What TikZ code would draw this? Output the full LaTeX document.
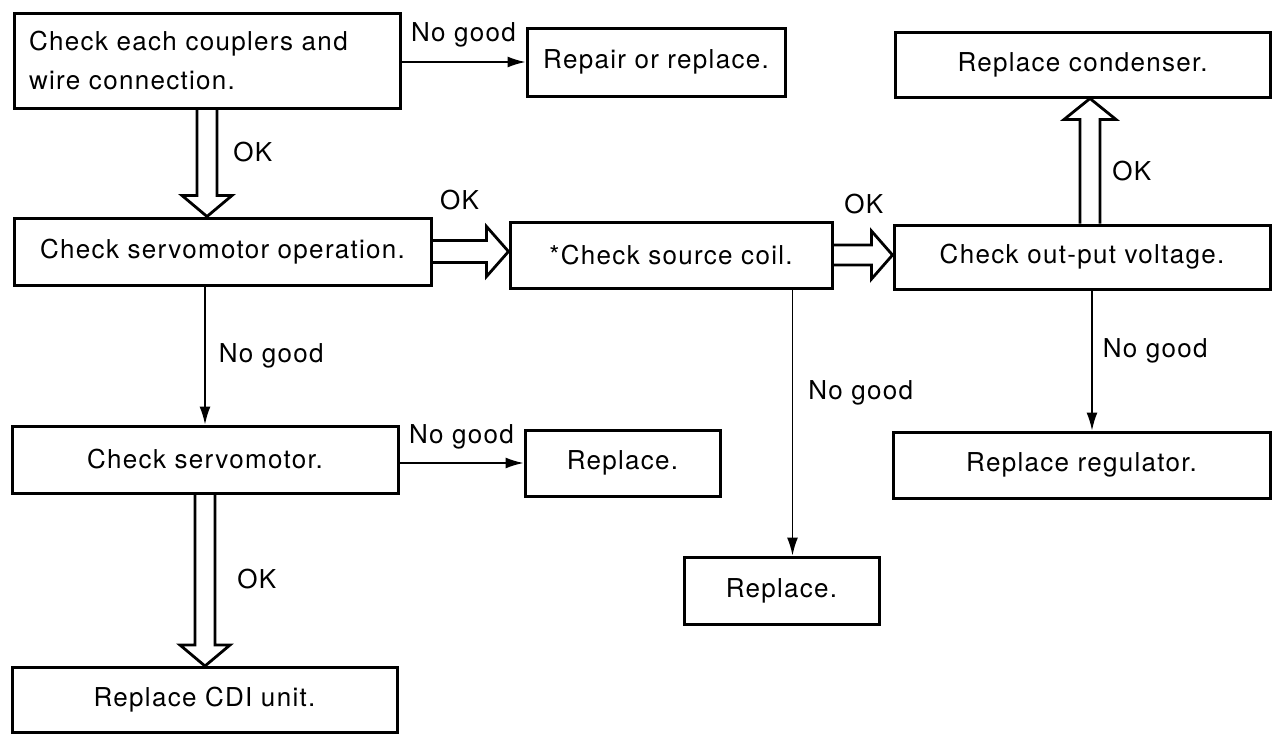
\documentclass[tikz,border=0pt]{standalone}
\usepackage{fontspec}
\setmainfont{TeX Gyre Heros}[LetterSpace=5]
\usetikzlibrary{arrows.meta,calc,positioning}

\begin{document}
\begin{tikzpicture}[
    x=0.5pt,
    y=-0.5pt,
    font=\fontsize{13}{19.5}\selectfont,
    box/.style={
        rectangle,
        draw,
        line width=1.5pt,
        align=center,
        inner sep=0pt
    },
    verdict/.style={
        font=\fontsize{13}{15}\selectfont,
        inner sep=1pt
    },
    arrow/.style={
        -{Latex[length=9pt,width=5.5pt]},
        line width=0.8pt
    },
    hollow/.style={
        line width=1.4pt,
        line join=miter
    }
]
\useasboundingbox (0,0) rectangle (1274,735);

% Checks and remedies
\node [box, minimum width=193pt, minimum height=47.5pt, text width=178pt, align=left] (couple) at (207,60.5) {Check each couplers and\\wire connection.};
\node [box, minimum width=129pt, minimum height=34pt] (repair) at (656,62) {Repair or replace.};
\node [box, minimum width=187.5pt, minimum height=32.5pt] (condenser) at (1082.5,64.5) {Replace condenser.};
\node [box, minimum width=208.5pt, minimum height=33.5pt] (servo) at (222.5,251.5) {Check servomotor operation.};
\node [box, minimum width=161pt, minimum height=33pt] (coil) at (671,255) {*Check source coil.};
\node [box, minimum width=188pt, minimum height=32pt] (output) at (1082,257) {Check out-put voltage.};
\node [box, minimum width=193pt, minimum height=33.5pt] (motor) at (205,459.5) {Check servomotor.};
\node [box, minimum width=97.5pt, minimum height=33pt] (replaceA) at (622.5,463) {Replace.};
\node [box, minimum width=188.5pt, minimum height=33pt] (regulator) at (1081.5,465) {Replace regulator.};
\node [box, minimum width=97.5pt, minimum height=33.5pt] (replaceB) at (781.5,590.5) {Replace.};
\node [box, minimum width=192.5pt, minimum height=32.5pt] (cdi) at (204.5,700) {Replace CDI unit.};

% No good branches
\draw [arrow] (couple.east |- repair.west) -- node[verdict, above=6pt] {No good} (repair.west);
\draw [arrow] (motor.north |- servo.south) -- node[verdict, right=5.5pt] {No good} (motor.north);
\draw [arrow] (motor.east |- replaceA.west) -- node[verdict, above=5.5pt] {No good} (replaceA.west);
\draw [arrow] ([xshift=5.5pt]replaceB.north |- coil.south) -- node[verdict, right=6.5pt, pos=0.39] {No good} ([xshift=5.5pt]replaceB.north);
\draw [arrow] ([xshift=5pt]output.south) -- node[verdict, right=4pt, pos=0.43] {No good} ([xshift=5pt]output.south |- regulator.north);

% OK branches
\coordinate (tipA) at (couple.south |- servo.north);
\coordinate (tipB) at (motor.south |- cdi.north);
\coordinate (tipC) at (servo.east -| coil.west);
\coordinate (tipD) at (coil.east -| output.west);
\coordinate (tailE) at ($(output.north)+(8,0)$);
\coordinate (tipE) at ($(output.north |- condenser.south)+(8,0)$);

\draw [hollow] ($(couple.south)+(-10,0)$) -- ($(tipA)+(-10,-21)$) -- ($(tipA)+(-25,-21)$) -- (tipA) -- ($(tipA)+(25,-21)$) -- ($(tipA)+(10,-21)$) -- node[verdict, right=6.5pt] {OK} ($(couple.south)+(10,0)$);
\draw [hollow] ($(motor.south)+(-10,0)$) -- ($(tipB)+(-10,-21)$) -- ($(tipB)+(-25,-21)$) -- (tipB) -- ($(tipB)+(25,-21)$) -- ($(tipB)+(10,-21)$) -- node[verdict, right=9.5pt, pos=0.44] {OK} ($(motor.south)+(10,0)$);
\draw [hollow] ($(servo.east)+(0,-11)$) -- node[verdict, above=13.5pt] {OK} ($(tipC)+(-22,-11)$) -- ($(tipC)+(-22,-25)$) -- (tipC) -- ($(tipC)+(-22,25)$) -- ($(tipC)+(-22,11)$) -- ($(servo.east)+(0,11)$);
\draw [hollow] ($(coil.east)+(0,-10)$) -- node[verdict, above=14pt, pos=0.8] {OK} ($(tipD)+(-21,-10)$) -- ($(tipD)+(-21,-24)$) -- (tipD) -- ($(tipD)+(-21,24)$) -- ($(tipD)+(-21,10)$) -- ($(coil.east)+(0,10)$);
\draw [hollow] ($(tailE)+(-10,0)$) -- ($(tipE)+(-10,21)$) -- ($(tipE)+(-26,21)$) -- (tipE) -- ($(tipE)+(26,21)$) -- ($(tipE)+(10,21)$) -- node[verdict, right=4.5pt] {OK} ($(tailE)+(10,0)$);

\end{tikzpicture}
\end{document}
